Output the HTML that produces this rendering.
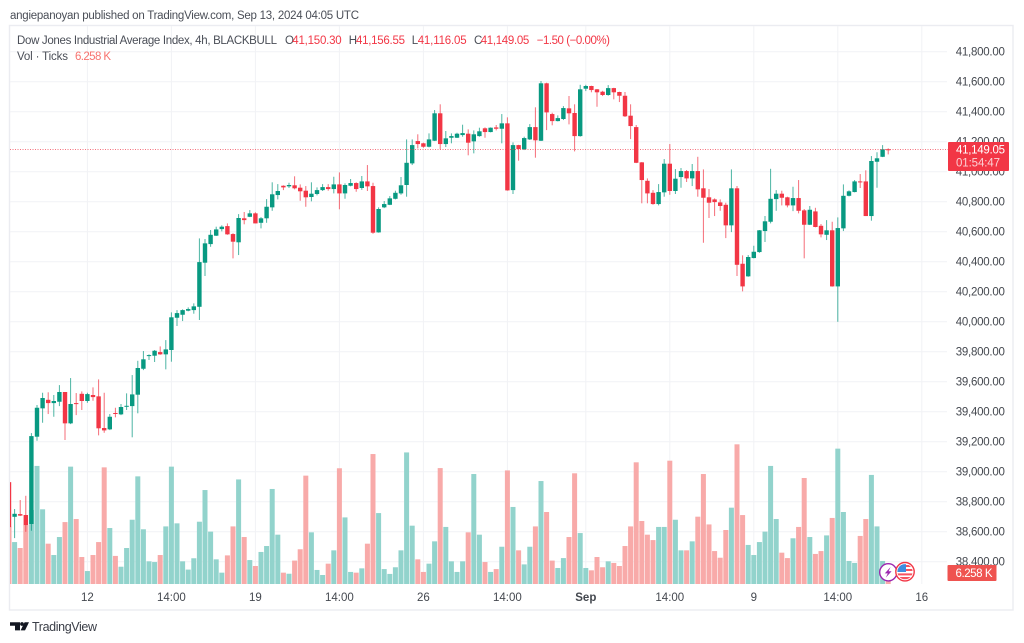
<!DOCTYPE html>
<html lang="en">
<head>
<meta charset="utf-8">
<title>Dow Jones Industrial Average Index, 4h chart</title>
<style>
html,body{margin:0;padding:0;background:#fff;width:1024px;height:643px;overflow:hidden}
svg{display:block}
text{font-family:"Liberation Sans","DejaVu Sans",sans-serif;font-size:11.5px;fill:#4a4e57}
</style>
</head>
<body>
<svg id="chart" width="1024" height="643" viewBox="0 0 1024 643" xmlns="http://www.w3.org/2000/svg">
  <defs>
    <clipPath id="plot-clip"><rect x="10" y="26" width="937" height="558"/></clipPath>
    <clipPath id="flag-clip"><circle cx="905" cy="571.7" r="7.6"/></clipPath>
  </defs>
  <rect x="0" y="0" width="1024" height="643" fill="#ffffff"/>
  <text x="10" y="19" textLength="349" lengthAdjust="spacing">angiepanoyan published on TradingView.com, Sep 13, 2024 04:05 UTC</text>
  <rect x="9.5" y="25.5" width="1003.5" height="584.5" fill="#ffffff" stroke="#ebecf1" stroke-width="1.4"/>
  <g id="grid"></g>
  <g id="volume" clip-path="url(#plot-clip)"></g>
  <g id="candles" clip-path="url(#plot-clip)"></g>
  <g id="last-line"></g>

  <text x="17" y="44" textLength="260" lengthAdjust="spacing">Dow Jones Industrial Average Index, 4h, BLACKBULL</text>
  <text x="285" y="44">O</text>
  <text x="292.3" y="44" textLength="49.4" style="fill:#f23645">41,150.30</text>
  <text x="348.7" y="44">H</text>
  <text x="356" y="44" textLength="49" style="fill:#f23645">41,156.55</text>
  <text x="411.7" y="44">L</text>
  <text x="417.7" y="44" textLength="49" style="fill:#f23645">41,116.05</text>
  <text x="474" y="44">C</text>
  <text x="480.7" y="44" textLength="48.6" style="fill:#f23645">41,149.05</text>
  <text x="536.7" y="44" textLength="73.3" style="fill:#f23645">−1.50 (−0.00%)</text>
  <text x="17" y="60" textLength="51" lengthAdjust="spacing">Vol · Ticks</text>
  <text x="75" y="60" textLength="36" style="fill:#f7736f">6.258 K</text>

  <g id="y-axis"></g>
  <g id="x-axis"></g>

  <g>
    <rect x="948" y="142" width="61" height="29" rx="1" fill="#f23645"/>
    <text x="956" y="153.5" textLength="49" style="fill:#ffffff">41,149.05</text>
    <text x="956" y="166.5" textLength="44" style="fill:#fbd0d4">01:54:47</text>
  </g>
  <g>
    <rect x="947.5" y="565" width="49" height="16" rx="1" fill="#ef5350"/>
    <text x="955.5" y="577" textLength="37" style="fill:#ffffff">6.258 K</text>
  </g>

  <g>
    <circle cx="888.3" cy="572.3" r="8.6" fill="#ffffff" stroke="#9c27b0" stroke-width="1.4"/>
    <polygon points="890.6,567 884.8,573.4 887.8,573.4 885.8,577.6 891.6,571.2 888.6,571.2" fill="#9c27b0"/>
  </g>
  <g>
    <circle cx="905" cy="571.7" r="9.2" fill="#ffffff" stroke="#f23645" stroke-width="1.4"/>
    <g clip-path="url(#flag-clip)">
      <rect x="896" y="563" width="18" height="18" fill="#ffffff"/>
      <rect x="896" y="565" width="18" height="2" fill="#f7525f"/>
      <rect x="896" y="569" width="18" height="2" fill="#f7525f"/>
      <rect x="896" y="573.4" width="18" height="2" fill="#f7525f"/>
      <rect x="896" y="577" width="18" height="2.4" fill="#f7525f"/>
      <rect x="896" y="563" width="10" height="9" fill="#3d8ee0"/>
    </g>
  </g>

  <g>
    <g fill="#131722">
      <polygon points="10,622.2 20,622.2 20,630.4 15,630.4 15,625.8 10,625.8"/>
      <circle cx="22" cy="624" r="1.9"/>
      <polygon points="24.6,622.2 29,622.2 25,630.4 20.6,630.4"/>
    </g>
    <text x="32" y="631" textLength="65" style="font-size:12.5px;fill:#3a3e47">TradingView</text>
  </g>
</svg>
<script>
const opens=[38931,38700,38718,38712,38652,39234,39423,39480,39458,39467,39532,39323,39458,39520,39472,39512,39503,39292,39283,39392,39383,39434,39438,39514,39687,39772,39774,39798,39783,39812,40027,40047,40074,40078,40100,40394,40518,40574,40618,40638,40585,40530,40690,40700,40723,40660,40690,40763,40845,40907,40903,40910,40894,40874,40832,40852,40878,40898,40885,40916,40856,40907,40925,40892,40936,40905,40596,40763,40780,40820,40856,40912,41056,41205,41190,41167,41207,41390,41185,41227,41227,41245,41254,41203,41238,41290,41265,41296,41287,41323,40878,41178,41150,41216,41298,41207,41590,41385,41338,41352,41423,41392,41238,41554,41572,41550,41534,41512,41558,41532,41507,41374,41298,41063,40940,40860,40785,40863,41054,40872,40965,41005,40956,41005,40890,40830,40816,40796,40780,40643,40890,40387,40303,40425,40465,40605,40667,40818,40854,40830,40776,40825,40743,40647,40736,40640,40580,40610,40236,40623,40840,40865,40936,40936,40705,41067,41100,41150.30];
const highs=[38931,38752,38812,38840,39258,39445,39527,39530,39512,39578,39532,39625,39525,39536,39527,39563,39616,39527,39385,39427,39452,39523,39645,39740,39805,39783,39812,39836,39878,40063,40078,40083,40096,40123,40556,40552,40612,40634,40643,40656,40590,40718,40732,40745,40730,40698,40818,40930,40918,40910,40927,40970,40916,40905,40930,40896,40918,40918,40967,40996,40923,40952,40930,40972,41045,40927,40763,40805,40838,40874,40965,41216,41216,41250,41194,41256,41412,41450,41272,41256,41260,41314,41283,41276,41294,41296,41296,41312,41385,41363,41196,41180,41234,41318,41430,41605,41594,41394,41376,41438,41505,41450,41580,41580,41574,41552,41540,41578,41560,41534,41532,41450,41312,41065,40956,40878,40918,41085,41185,41018,41025,41012,41052,41100,41016,40885,40823,40816,40794,41016,40905,40443,40445,40507,40612,40705,41020,40878,40874,40834,40900,40945,40752,40772,40760,40652,40678,40667,40696,40916,40876,40945,40985,41010,41105,41130,41178,41156.55];
const lows=[38631,38558,38705,38600,38607,39207,39327,39385,39367,39438,39212,39318,39378,39412,39460,39474,39243,39260,39278,39363,39378,39412,39230,39390,39678,39745,39732,39780,39683,39734,39972,40005,40070,40054,40012,40305,40500,40572,40603,40580,40423,40445,40650,40698,40656,40623,40660,40740,40816,40878,40892,40883,40807,40767,40803,40843,40872,40874,40856,40750,40820,40903,40867,40880,40872,40587,40594,40758,40778,40816,40847,40834,41045,41156,41160,41163,41205,41150,41165,41190,41225,41234,41110,41123,41234,41227,41263,41276,41190,40874,40852,41074,41145,41212,41094,41205,41278,41310,41336,41345,41316,41136,41234,41538,41530,41434,41505,41507,41483,41465,41365,41218,41058,40790,40790,40780,40776,40834,40847,40852,40894,40932,40905,40834,40527,40692,40705,40740,40558,40598,40305,40203,40300,40423,40460,40532,40656,40740,40776,40763,40738,40723,40423,40645,40630,40563,40545,40234,40000,40605,40836,40863,40892,40705,40674,40894,41098,41116.05];
const closes=[38631,38720,38708,38645,39238,39427,39492,39458,39472,39532,39323,39452,39452,39472,39518,39498,39290,39276,39367,39387,39432,39440,39516,39692,39750,39778,39807,39783,39816,40030,40058,40078,40085,40103,40398,40523,40580,40616,40634,40583,40534,40692,40678,40723,40656,40690,40767,40850,40872,40896,40912,40890,40870,40830,40854,40878,40898,40885,40916,40856,40912,40925,40885,40936,40903,40594,40752,40785,40823,40860,40910,41060,41178,41185,41167,41216,41390,41185,41223,41238,41254,41258,41194,41250,41270,41265,41294,41287,41323,40876,41178,41152,41225,41298,41210,41590,41396,41338,41358,41425,41390,41238,41550,41572,41545,41530,41512,41558,41530,41507,41370,41305,41060,40945,40856,40785,40865,41054,40872,40954,41005,40956,41005,40883,40827,40794,40798,40772,40643,40890,40380,40236,40432,40467,40610,40670,40820,40854,40827,40776,40825,40740,40647,40747,40632,40583,40610,40236,40625,40840,40870,40936,40932,40705,41072,41090,41150,41149.05];
const volumesK=[31.9,23.3,20.0,32.8,41.1,65.6,41.5,22.4,16.1,26.1,34.4,65.2,36.1,15.0,7.2,16.1,23.3,64.8,31.1,15.6,9.6,20.0,35.7,59.8,30.4,12.6,12.2,16.1,32.0,65.2,33.7,12.6,8.0,14.3,34.6,52.2,29.1,13.7,6.3,15.9,32.0,58.1,26.1,13.3,10.0,17.8,21.1,52.8,27.4,6.3,5.7,13.0,19.3,60.2,28.7,7.8,5.0,11.3,18.7,64.3,37.0,6.7,6.3,8.7,22.4,72.2,39.4,8.3,5.6,9.3,18.7,73.1,32.4,13.7,6.7,11.3,23.7,64.4,31.7,12.6,6.7,12.6,28.7,61.1,27.4,12.2,6.7,8.3,20.7,63.1,42.8,18.7,10.9,20.7,32.0,57.2,40.0,13.0,8.9,14.4,26.1,61.5,28.3,8.9,7.6,15.0,9.3,12.6,11.7,10.0,21.1,32.0,67.6,35.0,27.4,24.4,31.7,31.7,68.5,35.7,18.7,18.7,23.7,37.4,61.1,33.1,18.3,14.6,30.0,42.4,77.6,38.3,21.7,16.1,23.3,29.1,65.6,36.1,17.4,14.4,25.4,31.7,58.9,26.1,16.7,18.3,27.0,36.7,75.2,40.0,12.8,11.7,26.7,36.1,60.6,32.0,12.8,6.258];
const priceTicks=[41800,41600,41400,41200,41000,40800,40600,40400,40200,40000,39800,39600,39400,39200,39000,38800,38600,38400];
const timeTickLabels=['12','14:00','19','14:00','26','14:00','Sep','14:00','9','14:00','16'];
const timeTickBars=[14,29,44,59,74,89,103,118,133,148,163];
const lastPrice=41149.05;

const UP='#089981', DOWN='#f23645', UPV='#92d3cc', DOWNV='#f8aaa9';
const xOf=function(i){return 9+5.6*i;};
const yOf=function(p){return 51.8+(41800-p)*0.15;};
const hOfVol=function(v){return v*1.8;};
const VOL_BASE=584;
const NS='http://www.w3.org/2000/svg';
function mk(parent,tag,attrs){
  const el=document.createElementNS(NS,tag);
  for(const k in attrs){el.setAttribute(k,attrs[k]);}
  parent.appendChild(el);
  return el;
}
const grid=document.getElementById('grid');
const volume=document.getElementById('volume');
const candles=document.getElementById('candles');
const yAxis=document.getElementById('y-axis');
const xAxis=document.getElementById('x-axis');
const lastLine=document.getElementById('last-line');

priceTicks.forEach(function(p){
  const gl=mk(grid,'line',{x1:10,x2:947,y1:yOf(p),y2:yOf(p),stroke:'#f1f2f5','stroke-width':1});
  
  
  const t=mk(yAxis,'text',{x:955.7,y:yOf(p)+3.5,textLength:49.2,style:'fill:#44484f'});
  
  
  t.textContent=p.toLocaleString('en-US',{minimumFractionDigits:2,maximumFractionDigits:2});
});
timeTickBars.forEach(function(b,k){
  const x=xOf(b);
  const gl=mk(grid,'line',{x1:x,x2:x,y1:26,y2:VOL_BASE,stroke:'#f1f2f5','stroke-width':1});
  
  
  const isMonth=timeTickLabels[k]==='Sep';
  const t=mk(xAxis,'text',{x:x,y:601,'text-anchor':'middle',style:'fill:#44484f;'+(isMonth?'font-weight:bold':'')});
  
  
  t.textContent=timeTickLabels[k];
});
volumesK.forEach(function(v,i){
  const up=closes[i]>=opens[i];
  const h=hOfVol(v);
  const r=mk(volume,'rect',{x:xOf(i)-2.5,y:VOL_BASE-h,width:5,height:h,fill:up?UPV:DOWNV});
  
  
});
opens.forEach(function(o,i){
  const c=closes[i], up=c>=o, col=up?UP:DOWN, x=xOf(i);
  const wick=mk(candles,'line',{x1:x,x2:x,y1:yOf(highs[i]),y2:yOf(lows[i]),stroke:col,'stroke-width':1,opacity:0.72});
  
  
  const top=yOf(Math.max(o,c)), bot=yOf(Math.min(o,c));
  const body=mk(candles,'rect',{x:x-2.2,y:top,width:4.4,height:Math.max(1,bot-top),fill:col});
  
  
});
const lastY=Math.floor(yOf(lastPrice))+0.5;
const pl=mk(lastLine,'line',{x1:10,x2:948,y1:lastY,y2:lastY,stroke:'#f23645','stroke-width':1,'stroke-dasharray':'1 1.5',opacity:0.7});


</script>
</body>
</html>
